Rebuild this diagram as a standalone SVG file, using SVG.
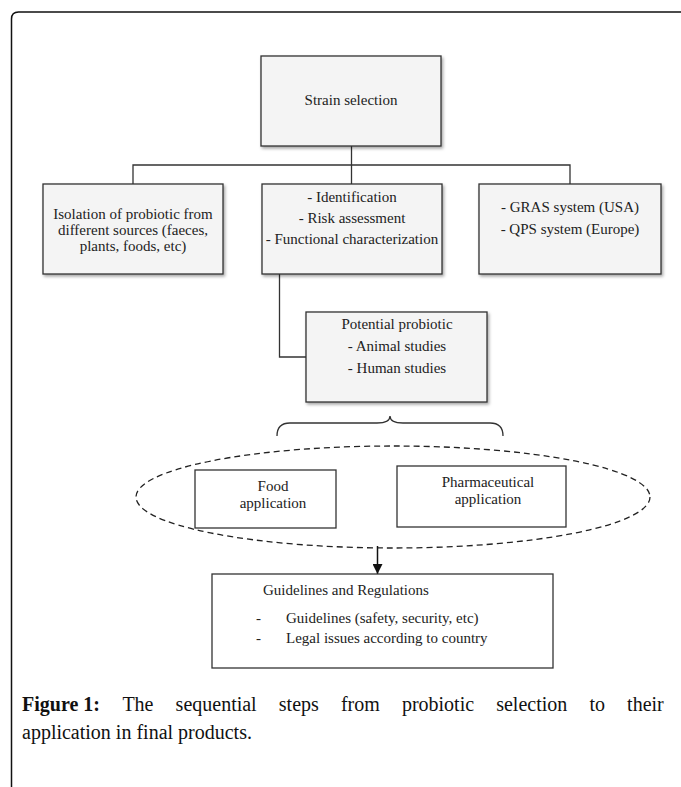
<svg xmlns="http://www.w3.org/2000/svg" width="681" height="787" viewBox="0 0 681 787">
<defs>
<filter id="sh" x="-10%" y="-10%" width="130%" height="130%">
<feDropShadow dx="1.5" dy="2" stdDeviation="1.5" flood-color="#000" flood-opacity="0.35"/>
</filter>
<marker id="ah" markerWidth="12" markerHeight="10" refX="10" refY="5" orient="auto" markerUnits="userSpaceOnUse" viewBox="0 0 10 10">
<path d="M0,0 L10,5 L0,10 Z" fill="#111"/>
</marker>
</defs>
<style>
.box{fill:#f4f4f4;stroke:#333;stroke-width:1.3;filter:url(#sh)}
.wbox{fill:#fff;stroke:#333;stroke-width:1.3}
.t{font-family:"Liberation Serif","Times New Roman",serif;font-size:15px;fill:#222;text-anchor:middle}
.tl{font-family:"Liberation Serif","Times New Roman",serif;font-size:15px;fill:#222}
.ln{fill:none;stroke:#333;stroke-width:1.3}
.cap{font-family:"Liberation Serif","Times New Roman",serif;font-size:20px;fill:#111}
</style>
<rect width="681" height="787" fill="#fff"/>
<path d="M11.5,787 V19 Q11.5,12 18.5,12 H681" fill="none" stroke="#111" stroke-width="1.5"/>

<g id="connectors">
<path class="ln" d="M351.5,146 V165"/>
<path class="ln" d="M133,184 V165 H570 V184"/>
<path class="ln" d="M351.5,165 V184"/>
<path class="ln" d="M279.5,274 V357 H306"/>
<path class="ln" d="M277,436 Q277,423 290,423 H377 Q390,423 390,416 Q390,423 403,423 H490 Q503,423 503,436"/>
<ellipse cx="393" cy="497" rx="257" ry="51" fill="none" stroke="#222" stroke-width="1.3" stroke-dasharray="6,4"/>
<path d="M377.5,546 V574" stroke="#111" stroke-width="1.5" fill="none" marker-end="url(#ah)"/>
</g>

<g id="strain">
<rect class="box" x="261" y="56" width="180" height="90"/>
<text class="t" x="351" y="105">Strain selection</text>
</g>
<g id="isolation">
<rect class="box" x="43" y="184" width="180" height="90"/>
<text class="t" x="133" y="219">Isolation of probiotic from</text>
<text class="t" x="133" y="235">different sources (faeces,</text>
<text class="t" x="133" y="251">plants, foods, etc)</text>
</g>
<g id="identification">
<rect class="box" x="262" y="184" width="180" height="90"/>
<text class="t" x="352" y="202">- Identification</text>
<text class="t" x="352" y="223">- Risk assessment</text>
<text class="t" x="352" y="244">- Functional characterization</text>
</g>
<g id="gras">
<rect class="box" x="479" y="184" width="182" height="90"/>
<text class="t" x="570" y="212">- GRAS system (USA)</text>
<text class="t" x="570" y="234">- QPS system (Europe)</text>
</g>
<g id="potential">
<rect class="box" x="306" y="312" width="181" height="90"/>
<text class="t" x="397" y="329">Potential probiotic</text>
<text class="t" x="397" y="351">- Animal studies</text>
<text class="t" x="397" y="373">- Human studies</text>
</g>
<g id="food">
<rect class="wbox" x="195" y="470" width="141" height="58"/>
<text class="t" x="273" y="491">Food</text>
<text class="t" x="273" y="508">application</text>
</g>
<g id="pharma">
<rect class="wbox" x="397" y="466" width="169" height="61"/>
<text class="t" x="488" y="487">Pharmaceutical</text>
<text class="t" x="488" y="504">application</text>
</g>
<g id="guidelines">
<rect class="wbox" x="212" y="574" width="341" height="94"/>
<text class="tl" x="263" y="595">Guidelines and Regulations</text>
<text class="tl" x="256" y="623">-</text>
<text class="tl" x="286" y="623">Guidelines (safety, security, etc)</text>
<text class="tl" x="256" y="643">-</text>
<text class="tl" x="286" y="643">Legal issues according to country</text>
</g>

<g id="caption">
<text class="cap" y="711"><tspan x="22" font-weight="bold">Figure 1:</tspan><tspan x="122.4">The</tspan><tspan x="175.6">sequential</tspan><tspan x="278.8">steps</tspan><tspan x="340.9">from</tspan><tspan x="401.9">probiotic</tspan><tspan x="496.2">selection</tspan><tspan x="589.4">to</tspan><tspan x="627.1">their</tspan></text>
<text class="cap" x="22" y="739">application in final products.</text>
</g>
</svg>
